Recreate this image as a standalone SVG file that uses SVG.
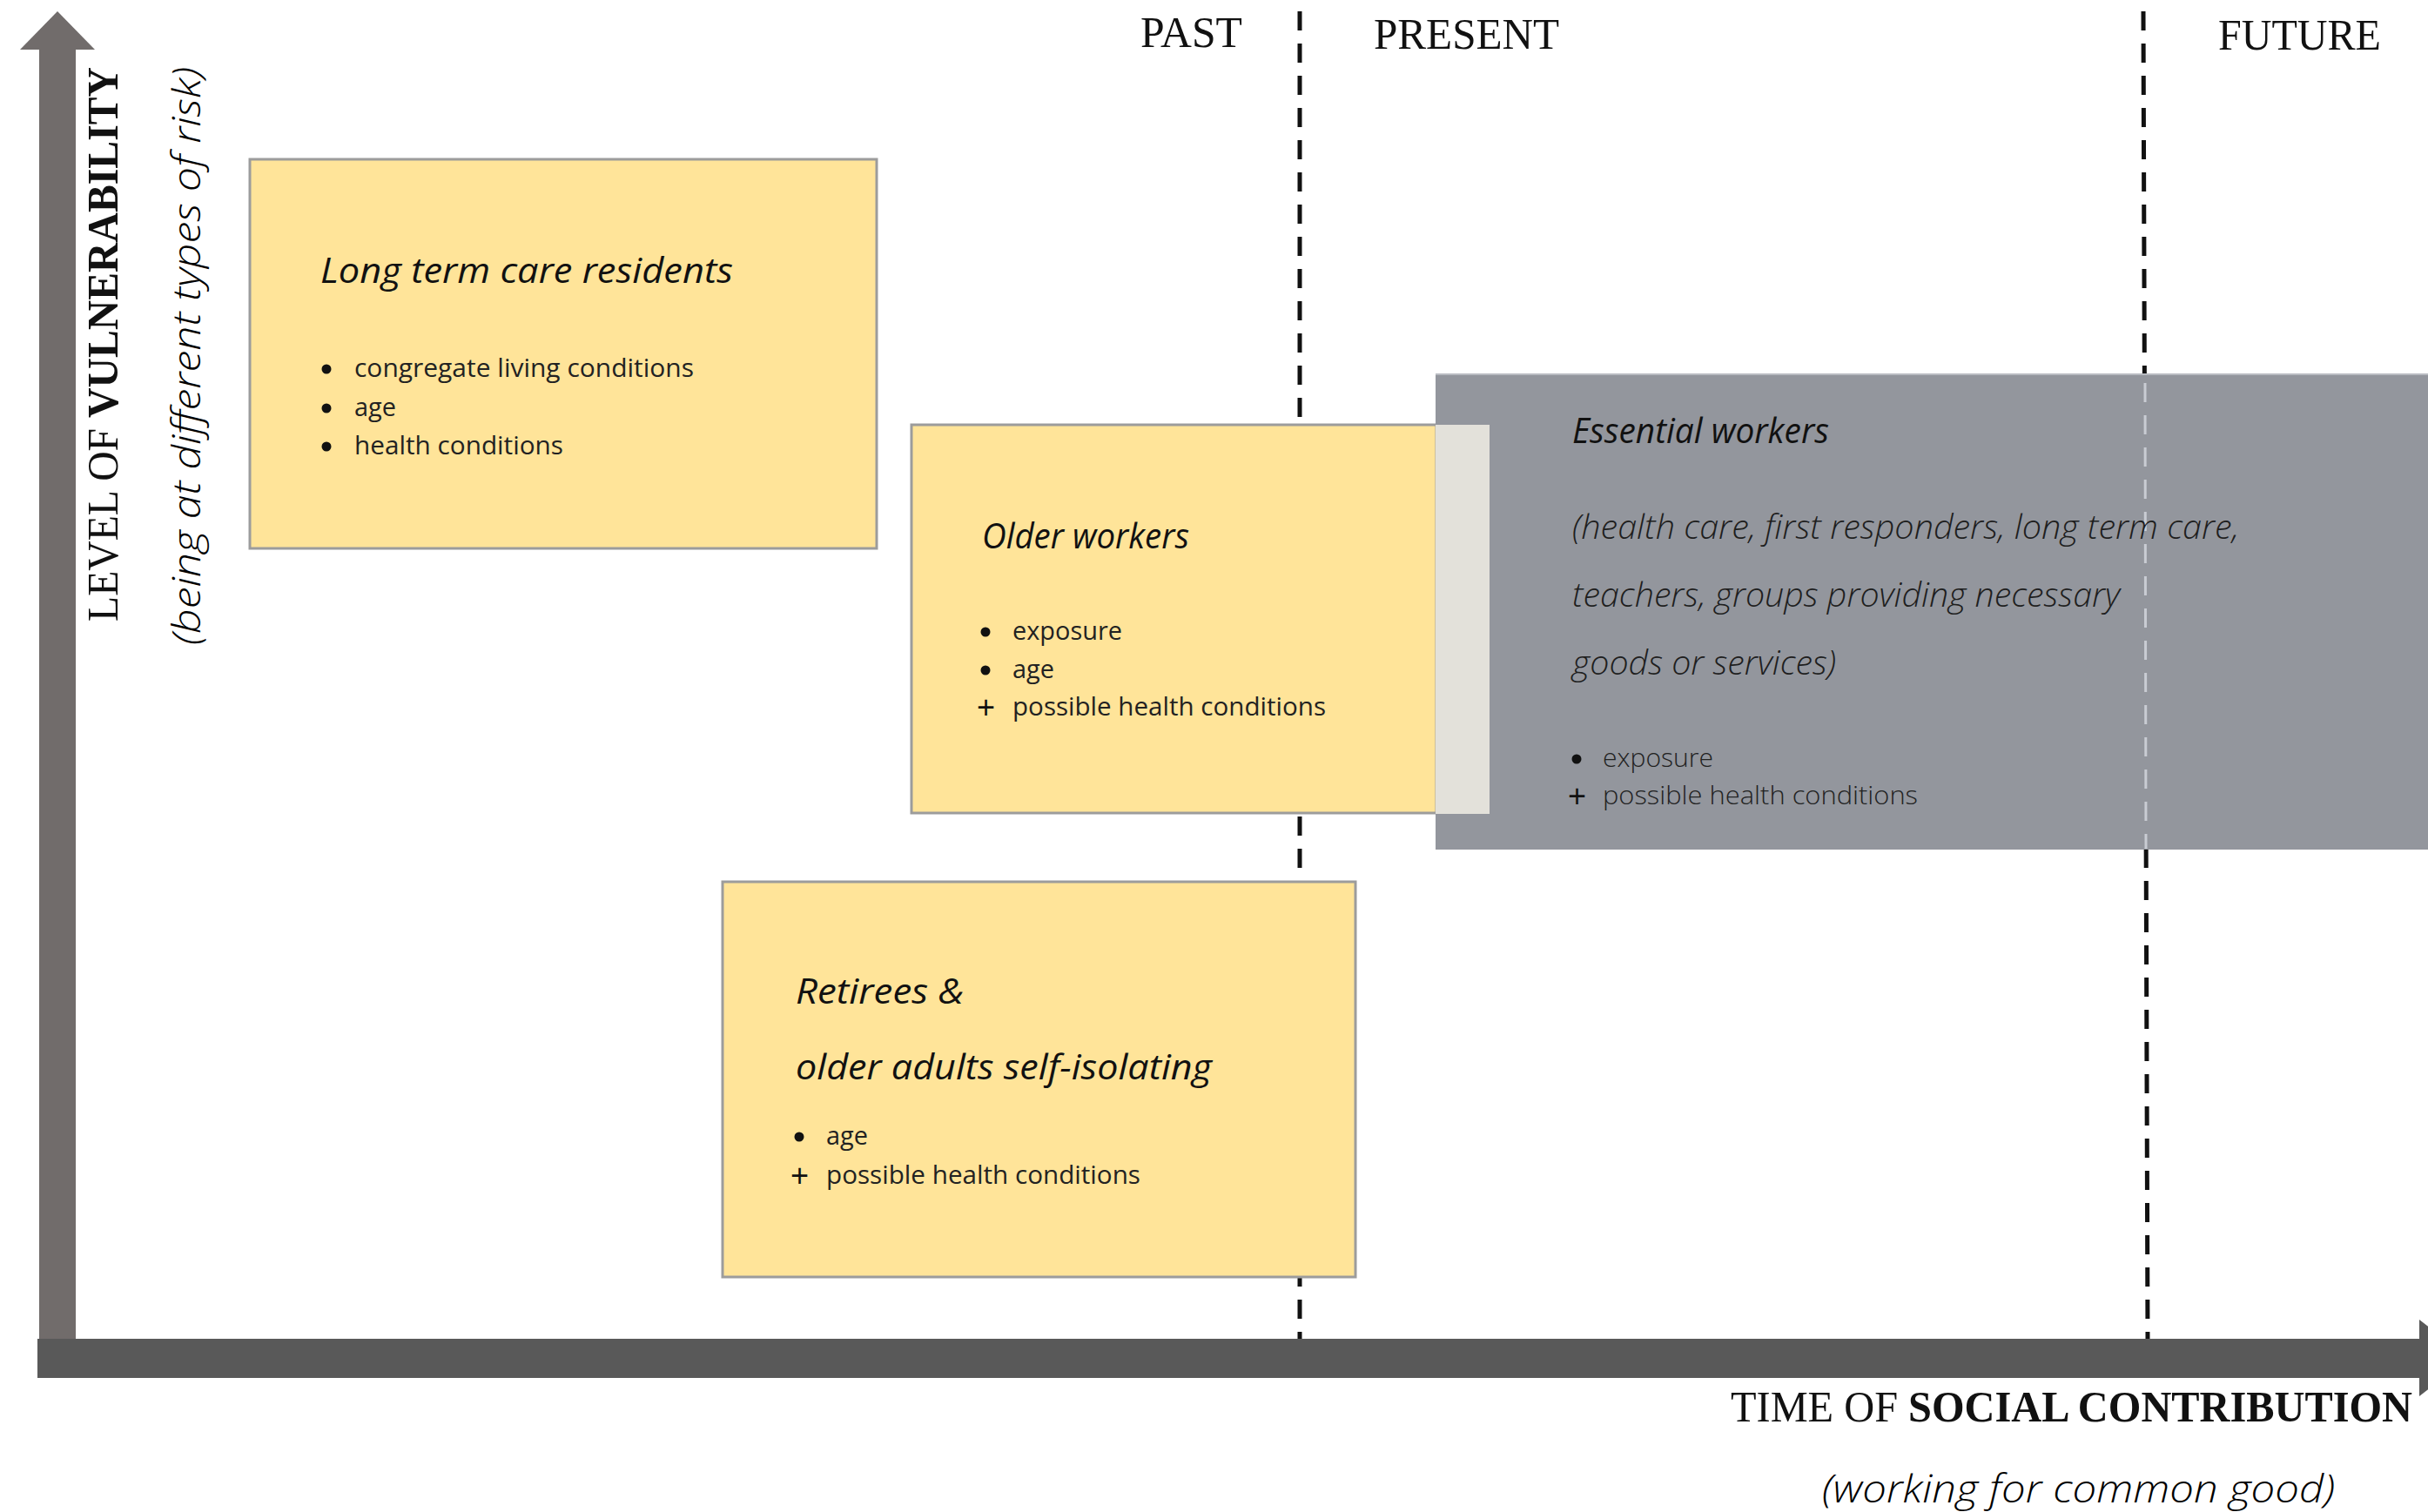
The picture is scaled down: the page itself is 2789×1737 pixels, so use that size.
<svg xmlns="http://www.w3.org/2000/svg" width="2789" height="1737" viewBox="0 0 2789 1737">
<defs>
<style>
.hdr{font-family:"Liberation Serif",serif;font-size:50px;fill:#111}
.ttl{font-family:"Open Sans","Liberation Sans",sans-serif;font-style:italic;font-weight:500;font-size:40px;fill:#111}
.bul{font-family:"Open Sans","Liberation Sans",sans-serif;font-size:29px;fill:#222}
.bulg{font-family:"Open Sans","Liberation Sans",sans-serif;font-weight:300;font-size:29px;fill:#222}
.plus{font-family:"Liberation Sans",sans-serif;font-size:36px;fill:#111}
.par{font-family:"Open Sans","Liberation Sans",sans-serif;font-style:italic;font-weight:300;font-size:38px;fill:#1e1e1e}
.sub{font-family:"Open Sans","Liberation Sans",sans-serif;font-style:italic;font-weight:300;font-size:44px;fill:#000}
.ybox{fill:#FFE499;stroke:#9c9c9c;stroke-width:3}
.dash{stroke:#111;stroke-width:5;stroke-dasharray:22 15;fill:none}
</style>
</defs>
<rect width="2789" height="1737" fill="#ffffff"/>

<g id="dividers">
<line class="dash" x1="1493" y1="13" x2="1493" y2="1538"/>
<line class="dash" x1="2462" y1="13" x2="2467" y2="1538"/>
</g>

<g id="period-labels">
<text class="hdr" x="1310" y="54" textLength="117" lengthAdjust="spacingAndGlyphs">PAST</text>
<text class="hdr" x="1578" y="56" textLength="213" lengthAdjust="spacingAndGlyphs">PRESENT</text>
<text class="hdr" x="2548" y="57" textLength="187" lengthAdjust="spacingAndGlyphs">FUTURE</text>
</g>

<g id="node-long-term-care">
<rect class="ybox" x="287" y="183" width="720" height="447"/>
<text class="ttl" x="368" y="325" textLength="474" lengthAdjust="spacingAndGlyphs">Long term care residents</text>
<circle cx="375" cy="424" r="5.5" fill="#111"/>
<text class="bul" x="407" y="433" textLength="390" lengthAdjust="spacingAndGlyphs">congregate living conditions</text>
<circle cx="375" cy="469" r="5.5" fill="#111"/>
<text class="bul" x="407" y="478" textLength="48" lengthAdjust="spacingAndGlyphs">age</text>
<circle cx="375" cy="513" r="5.5" fill="#111"/>
<text class="bul" x="407" y="522" textLength="240" lengthAdjust="spacingAndGlyphs">health conditions</text>
</g>

<g id="node-older-workers">
<rect class="ybox" x="1047" y="488" width="603" height="446"/>
<text class="ttl" x="1128" y="630" textLength="238" lengthAdjust="spacingAndGlyphs">Older workers</text>
<circle cx="1132" cy="726" r="5.5" fill="#111"/>
<text class="bul" x="1163" y="735" textLength="126" lengthAdjust="spacingAndGlyphs">exposure</text>
<circle cx="1132" cy="770" r="5.5" fill="#111"/>
<text class="bul" x="1163" y="779" textLength="48" lengthAdjust="spacingAndGlyphs">age</text>
<text class="plus" x="1122" y="825">+</text>
<text class="bul" x="1163" y="822" textLength="360" lengthAdjust="spacingAndGlyphs">possible health conditions</text>
</g>

<g id="node-essential-workers">
<rect x="1649" y="430" width="1140" height="546" fill="#93969D"/>
<line x1="1649" y1="430" x2="2789" y2="430" stroke="#b8bbc1" stroke-width="2"/>
<rect x="1649" y="488" width="62" height="447" fill="#E3E1DA"/>
<line x1="2464" y1="440" x2="2465" y2="975" stroke="#c9ccd3" stroke-width="3" stroke-dasharray="22 15"/>
<text class="ttl" x="1806" y="509" textLength="295" lengthAdjust="spacingAndGlyphs">Essential workers</text>
<text class="par" x="1806" y="619" textLength="766" lengthAdjust="spacingAndGlyphs">(health care, first responders, long term care,</text>
<text class="par" x="1806" y="697" textLength="629" lengthAdjust="spacingAndGlyphs">teachers, groups providing necessary</text>
<text class="par" x="1806" y="775" textLength="303" lengthAdjust="spacingAndGlyphs">goods or services)</text>
<circle cx="1811" cy="872" r="5.5" fill="#111"/>
<text class="bulg" x="1841" y="881" textLength="127" lengthAdjust="spacingAndGlyphs">exposure</text>
<text class="plus" x="1801" y="927" fill="#222">+</text>
<text class="bulg" x="1841" y="924" textLength="362" lengthAdjust="spacingAndGlyphs">possible health conditions</text>
</g>

<g id="node-retirees">
<rect class="ybox" x="830" y="1013" width="727" height="454"/>
<text class="ttl" x="914" y="1153" textLength="193" lengthAdjust="spacingAndGlyphs">Retirees &amp;</text>
<text class="ttl" x="914" y="1240" textLength="478" lengthAdjust="spacingAndGlyphs">older adults self-isolating</text>
<circle cx="918" cy="1306" r="5.5" fill="#111"/>
<text class="bul" x="949" y="1315" textLength="48" lengthAdjust="spacingAndGlyphs">age</text>
<text class="plus" x="908" y="1363">+</text>
<text class="bul" x="949" y="1360" textLength="361" lengthAdjust="spacingAndGlyphs">possible health conditions</text>
</g>

<g id="axes">
<rect x="45" y="56" width="42" height="1490" fill="#716C6B"/>
<polygon points="23,57 66,13 109,57" fill="#716C6B"/>
<rect x="43" y="1538" width="2740" height="45" fill="#595959"/>
<polygon points="2779,1516 2835,1560 2779,1604" fill="#595959"/>
</g>

<g id="axis-labels">
<text class="hdr" transform="translate(135,714) rotate(-90)" textLength="637" lengthAdjust="spacingAndGlyphs">LEVEL OF <tspan font-weight="bold">VULNERABILITY</tspan></text>
<text class="sub" transform="translate(230,741) rotate(-90)" textLength="664" lengthAdjust="spacingAndGlyphs">(being at different types of risk)</text>
<text class="hdr" x="1988" y="1633" textLength="783" lengthAdjust="spacingAndGlyphs">TIME OF <tspan font-weight="bold">SOCIAL CONTRIBUTION</tspan></text>
<text class="sub" x="2093" y="1726" textLength="589" lengthAdjust="spacingAndGlyphs">(working for common good)</text>
</g>
</svg>
